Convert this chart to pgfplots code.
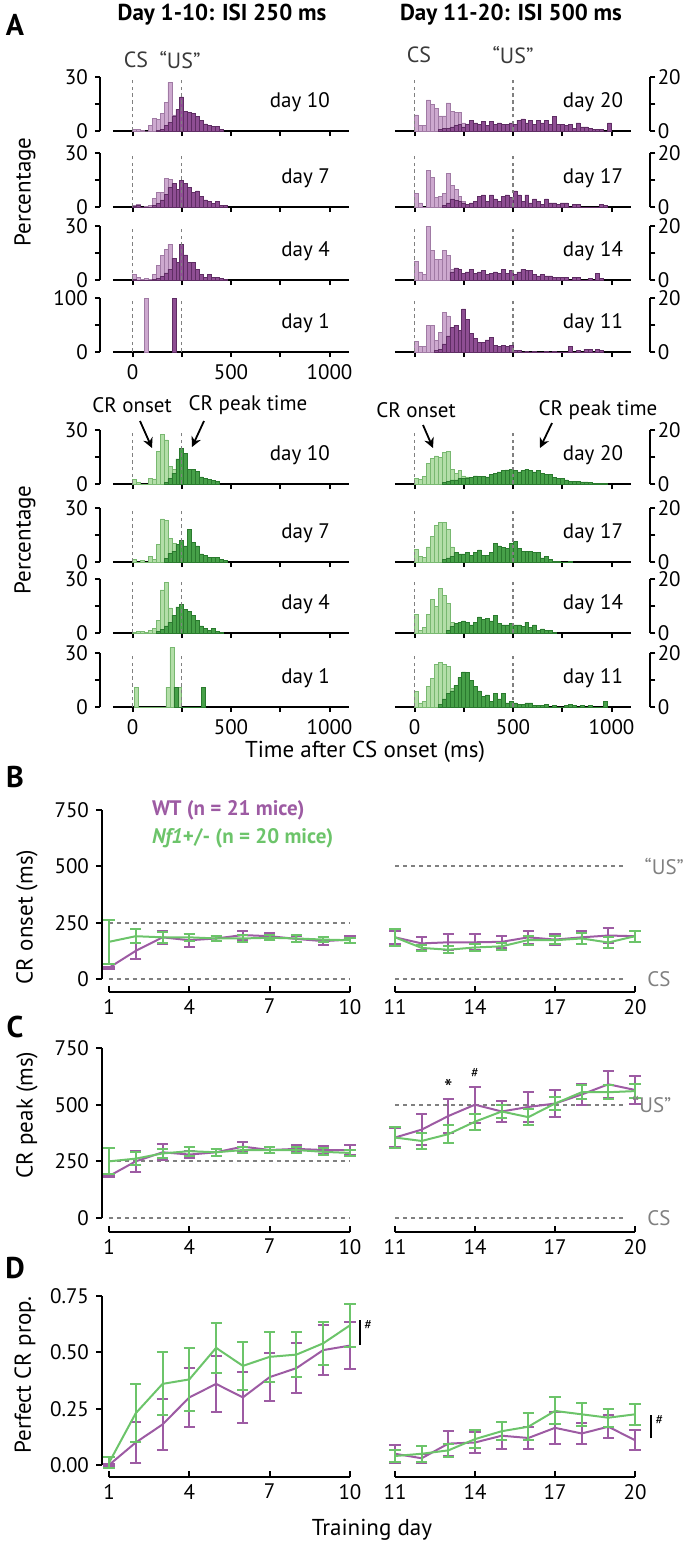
\documentclass[border=0pt]{standalone}
\usepackage{pgfplots}
\pgfplotsset{compat=1.18}
\usetikzlibrary{arrows.meta}
\usepackage{fontspec}
\setmainfont{PT Sans}
\definecolor{plight}{HTML}{CDA9CF}
\definecolor{pledge}{HTML}{A07AA4}
\definecolor{pdark}{HTML}{8E4E93}
\definecolor{pdedge}{HTML}{5F2D64}
\definecolor{glight}{HTML}{B3DEA8}
\definecolor{gledge}{HTML}{78B870}
\definecolor{gdark}{HTML}{46A048}
\definecolor{gdedge}{HTML}{2A7A2E}
\definecolor{wtline}{HTML}{9D5BA3}
\definecolor{nfline}{HTML}{6CC46A}
\definecolor{refgray}{HTML}{808080}
\definecolor{txtgray}{HTML}{3A3A3A}
\newcommand{\tks}{\fontsize{10.5}{12}\selectfont}
\pgfplotsset{
  /pgf/number format/assume math mode=true,
  hbase/.style={scale only axis, width=118.2pt, height=27pt, xmin=-100, xmax=1100, ymin=0,
    axis x line*=bottom, tick align=outside, xtick={0,250,500,750,1000}, xticklabels={},
    axis line style={line width=1pt}, tick style={line width=1pt, black}, major tick length=2.5pt,
    tick label style={font=\tks}, yticklabel style={inner ysep=0pt}, clip=false},
  hleft/.style={hbase, axis y line*=left, axis y line shift=6.5pt, ymax=30, ytick={0,15,30}, yticklabels={0,,30}},
  hright/.style={hbase, axis y line*=right, axis y line shift=9.6pt, ymax=20, ytick={0,10,20}, yticklabels={0,,20},
    yticklabel style={inner xsep=1pt}},
  bottomx/.style={xticklabels={0,,500,,1000}},
  pL/.style={ybar interval, fill=plight, draw=pledge, line width=0.3pt},
  pD/.style={ybar interval, fill=pdark, draw=pdedge, line width=0.3pt},
  gL/.style={ybar interval, fill=glight, draw=gledge, line width=0.3pt},
  gD/.style={ybar interval, fill=gdark, draw=gdedge, line width=0.3pt},
  hdash/.style={refgray, line width=0.7pt, dash pattern=on 1.8pt off 1.6pt},
  refdash/.style={refgray, line width=0.9pt, dash pattern=on 2.2pt off 1.8pt},
  lineax/.style={scale only axis, axis x line*=bottom, axis y line*=left, axis y line shift=3.5pt,
    xtick align=inside, ytick align=outside, major tick length=3pt,
    axis line style={line width=1pt}, tick style={line width=1pt, black},
    tick label style={font=\tks}, clip=false, width=120.5pt},
  lineaxR/.style={scale only axis, axis x line*=bottom, axis y line=none,
    xtick align=inside, major tick length=3pt,
    axis line style={line width=1pt}, tick style={line width=1pt, black},
    tick label style={font=\tks}, clip=false, width=120pt},
  wtst/.style={color=wtline, line width=1pt, mark=none, error bars/.cd, y dir=both, y explicit,
    error bar style={line width=1pt}, error mark options={line width=1pt, mark size=2.8pt, rotate=90}},
  nfst/.style={color=nfline, line width=1pt, mark=none, error bars/.cd, y dir=both, y explicit,
    error bar style={line width=1pt}, error mark options={line width=1pt, mark size=2.8pt, rotate=90}},
}
\begin{document}
\begin{tikzpicture}
\path[use as bounding box] (0,0) rectangle (342.5pt,-774.5pt);
\begin{scope}[x=0.5pt,y=-0.5pt]
\node[font=\fontsize{15}{17}\selectfont\bfseries] at (15,25) {A};
\node[font=\fontsize{15}{17}\selectfont\bfseries] at (15,777) {B};
\node[font=\fontsize{15}{17}\selectfont\bfseries] at (15,1027) {C};
\node[font=\fontsize{15}{17}\selectfont\bfseries] at (15,1268) {D};
\node[font=\fontsize{11.5}{13}\selectfont\bfseries] at (222,15) {Day 1-10: ISI 250 ms};
\node[font=\fontsize{11.5}{13}\selectfont\bfseries] at (511,15) {Day 11-20: ISI 500 ms};
\node[font=\fontsize{11}{13}\selectfont, text=txtgray] at (136,60) {CS};
\node[font=\fontsize{11}{13}\selectfont, text=txtgray] at (180,60) {“US”};
\node[font=\fontsize{11}{13}\selectfont, text=txtgray] at (419,55) {CS};
\node[font=\fontsize{11}{13}\selectfont, text=txtgray] at (513,55) {“US”};
\node[font=\fontsize{11.5}{13}\selectfont, rotate=90] at (25,192) {Percentage};
\node[font=\fontsize{11.5}{13}\selectfont, rotate=90] at (25,540) {Percentage};
\node[font=\tks] at (132,405) {CR onset};
\node[font=\tks] at (248,405) {CR peak time};
\node[font=\tks] at (416,410) {CR onset};
\node[font=\tks] at (598,410) {CR peak time};
\draw[-{Stealth[length=5pt,width=5pt]}, line width=0.9pt] (140,421) -- (152,448);
\draw[-{Stealth[length=5pt,width=5pt]}, line width=0.9pt] (204,421) -- (192,447);
\draw[-{Stealth[length=5pt,width=5pt]}, line width=0.9pt] (423,425) -- (433,448);
\draw[-{Stealth[length=5pt,width=5pt]}, line width=0.9pt] (552,423) -- (540,448);
\node[font=\fontsize{11.5}{13}\selectfont] at (365,752) {Time after CS onset (ms)};
\node[font=\fontsize{11.5}{13}\selectfont, rotate=90] at (27,917) {CR onset (ms)};
\node[font=\fontsize{11.5}{13}\selectfont, rotate=90] at (27,1115) {CR peak (ms)};
\node[font=\fontsize{11.5}{13}\selectfont, rotate=90] at (25,1375) {Perfect CR prop.};
\node[font=\fontsize{11.5}{13}\selectfont] at (372,1530) {Training day};
\node[anchor=west, font=\fontsize{10.5}{12}\selectfont\bfseries, text=wtline] at (145,810) {WT (n = 21 mice)};
\node[anchor=west, font=\fontsize{10.5}{12}\selectfont\bfseries, text=nfline] at (145,838) {\textit{Nf1}+/- (n = 20 mice)};
\end{scope}

% ---------------- Panel A purple, left ----------------
\begin{axis}[hleft, at={(56.4pt,-65.5pt)}, anchor=south west]
\addplot[pL] coordinates {(0,1)(20,1)(40,0.5)(60,0)(80,3)(100,7)(120,6.5)(140,10)(160,16)(180,27)(200,9)(220,3)(240,1)(260,0)};
\addplot[pD] coordinates {(120,0.5)(140,1)(160,3)(180,5)(200,8)(220,12)(240,19)(260,11)(280,10.5)(300,10)(320,8)(340,6)(360,4)(380,3)(400,2.5)(420,2.5)(440,1)(460,0)};
\addplot[hdash] coordinates {(0,0)(0,30)};
\addplot[hdash] coordinates {(250,0)(250,30)};
\node[anchor=east, font=\tks] at (rel axis cs:0.948,0.54) {day 10};
\end{axis}
\begin{axis}[hleft, at={(56.4pt,-103.5pt)}, anchor=south west]
\addplot[pL] coordinates {(0,1)(20,1.5)(40,0)(60,0.5)(80,1)(100,5)(120,8)(140,8)(160,16)(180,15.5)(200,10)(220,6)(240,3)(260,0)};
\addplot[pD] coordinates {(0,0.5)(20,1)(40,0)(100,1)(120,2)(140,4)(160,7)(180,11)(200,13)(220,10)(240,15)(260,13)(280,11)(300,8)(320,9)(340,6)(360,4)(380,3)(400,2)(420,3)(440,1)(460,1)(480,0)};
\addplot[hdash] coordinates {(0,0)(0,30)};
\addplot[hdash] coordinates {(250,0)(250,30)};
\node[anchor=east, font=\tks] at (rel axis cs:0.948,0.54) {day 7};
\end{axis}
\begin{axis}[hleft, at={(56.4pt,-140pt)}, anchor=south west]
\addplot[pL] coordinates {(0,3)(20,1.5)(40,0.5)(60,1)(80,0.5)(100,3)(120,8)(140,13.5)(160,17)(180,20)(200,11)(220,6)(240,2)(260,0)};
\addplot[pD] coordinates {(0,0.5)(20,0)(100,0.5)(120,1)(140,2)(160,4)(180,6)(200,12)(220,10)(240,20)(260,14)(280,10)(300,10)(320,6)(340,3)(360,1.5)(380,3)(400,1.5)(420,1.5)(440,1)(460,0.5)(480,0)};
\addplot[hdash] coordinates {(0,0)(0,30)};
\addplot[hdash] coordinates {(250,0)(250,30)};
\node[anchor=east, font=\tks] at (rel axis cs:0.948,0.54) {day 4};
\end{axis}
\begin{axis}[hleft, bottomx, at={(56.4pt,-176pt)}, anchor=south west, ymax=100, ytick={0,50,100}, yticklabels={0,,100}]
\addplot[pL] coordinates {(60,100)(80,0)};
\addplot[pD] coordinates {(200,100)(220,0)};
\addplot[hdash] coordinates {(0,0)(0,100)};
\addplot[hdash] coordinates {(250,0)(250,100)};
\node[anchor=east, font=\tks] at (rel axis cs:0.948,0.54) {day 1};
\end{axis}

% ---------------- Panel A purple, right ----------------
\begin{axis}[hright, at={(197.4pt,-65.5pt)}, anchor=south west]
\addplot[pL] coordinates {(0,6)(20,2.2)(40,2)(60,11.5)(80,10)(100,8.5)(120,5.6)(140,5.6)(160,10.4)(180,7.2)(200,7)(220,6.8)(240,3)(260,2.6)(280,2.2)(300,1)(320,0)};
\addplot[pD] coordinates {(120,0.5)(140,1)(160,1)(180,1.5)(200,2)(220,2.5)(240,1.5)(260,2.5)(280,4)(300,3)(320,2.5)(340,3.5)(360,2)(380,3.5)(400,2.5)(420,3)(440,2.5)(460,2.5)(480,3)(500,2.5)(520,4)(540,4.5)(560,3)(580,4)(600,2.5)(620,4)(640,3)(660,4)(680,2.5)(700,5.5)(720,2.5)(740,2.5)(760,2)(780,2.5)(800,1)(820,3)(840,1.5)(860,1.5)(880,1)(900,0.5)(920,0.5)(940,0.5)(960,0)(980,3)(1000,0)};
\addplot[hdash] coordinates {(0,0)(0,20)};
\addplot[hdash] coordinates {(500,0)(500,20)};
\node[anchor=east, font=\tks] at (rel axis cs:0.995,0.54) {day 20};
\end{axis}
\begin{axis}[hright, at={(197.4pt,-103.5pt)}, anchor=south west]
\addplot[pL] coordinates {(0,5)(20,1.5)(40,0)(60,13.5)(80,11)(100,3.5)(120,3.8)(140,5)(160,12.5)(180,8)(200,6.5)(220,4)(240,2)(260,1)(280,0)};
\addplot[pD] coordinates {(140,0.5)(160,1.5)(180,3)(200,2.5)(220,2)(240,1.5)(260,1)(280,1.5)(300,2)(320,4)(340,4.5)(360,2)(380,4.5)(400,3)(420,2)(440,4)(460,4.5)(480,3.5)(500,6)(520,4.5)(540,2)(560,4.5)(580,1.5)(600,3)(620,2)(640,1)(660,3)(680,1.5)(700,1.5)(720,1)(740,1.5)(760,1.5)(780,0)(800,1)(820,1)(840,0)(940,1)(960,0.5)(980,0)};
\addplot[hdash] coordinates {(0,0)(0,20)};
\addplot[hdash] coordinates {(500,0)(500,20)};
\node[anchor=east, font=\tks] at (rel axis cs:0.995,0.54) {day 17};
\end{axis}
\begin{axis}[hright, at={(197.4pt,-140pt)}, anchor=south west]
\addplot[pL] coordinates {(0,7)(20,3)(40,2)(60,20)(80,11)(100,7.5)(120,7.5)(140,11)(160,9)(180,4)(200,2)(220,1.5)(240,0)};
\addplot[pD] coordinates {(180,3)(200,4.5)(220,4)(240,2.5)(260,3)(280,4)(300,2.5)(320,3)(340,3.5)(360,2)(380,2.5)(400,3)(420,2.5)(440,4)(460,2.5)(480,3.5)(500,2)(520,3)(540,4)(560,3.5)(580,3.5)(600,2)(620,1.5)(640,2)(660,1.5)(680,1.5)(700,1)(720,1)(740,1)(760,1)(780,0)(800,1)(820,1)(840,0)(880,0.5)(900,0)(920,2.5)(940,0.5)(960,0)};
\addplot[hdash] coordinates {(0,0)(0,20)};
\addplot[hdash] coordinates {(500,0)(500,20)};
\node[anchor=east, font=\tks] at (rel axis cs:0.995,0.54) {day 14};
\end{axis}
\begin{axis}[hright, bottomx, at={(197.4pt,-176pt)}, anchor=south west, xticklabels={}]
\addplot[pL] coordinates {(0,3.8)(20,2)(40,2)(60,10)(80,10)(100,4.4)(120,7.4)(140,14.6)(160,13.4)(180,6)(200,2.5)(220,1)(240,0)};
\addplot[pD] coordinates {(100,0.5)(120,1)(140,3)(160,6)(180,9)(200,10)(220,8)(240,16)(260,12)(280,7)(300,5)(320,3.5)(340,3.5)(360,4.5)(380,5.5)(400,2.5)(420,2)(440,2.5)(460,2)(480,2.5)(500,0.5)(520,0.5)(540,0)(560,0.3)(580,0)(600,0.3)(620,0)(660,0.3)(680,0)(700,0.3)(720,0)(780,2)(800,0)(820,0.5)(840,0)(860,1)(880,1)(900,0)(920,1)(940,0.5)(960,0)};
\addplot[hdash] coordinates {(0,0)(0,20)};
\addplot[hdash] coordinates {(500,0)(500,20)};
\node[anchor=east, font=\tks] at (rel axis cs:0.995,0.54) {day 11};
\end{axis}

% ---------------- Panel A green, left ----------------
\begin{axis}[hleft, at={(56.4pt,-242pt)}, anchor=south west]
\addplot[gL] coordinates {(0,2.4)(20,1)(40,0)(80,3.3)(100,2.8)(120,18)(140,27.6)(160,24.5)(180,9.8)(200,8)(220,5)(240,2)(260,0)};
\addplot[gD] coordinates {(160,1)(180,3)(200,6)(220,14)(240,20)(260,17)(280,8)(300,8)(320,7)(340,4)(360,3)(380,2.5)(400,2)(420,1.5)(440,0)};
\addplot[hdash] coordinates {(0,0)(0,30)};
\addplot[hdash] coordinates {(250,0)(250,30)};
\node[anchor=east, font=\tks] at (rel axis cs:0.948,0.54) {day 10};
\end{axis}
\begin{axis}[hleft, at={(56.4pt,-281pt)}, anchor=south west]
\addplot[gL] coordinates {(0,1.5)(20,0)(40,1)(60,0)(80,3)(100,1.5)(120,10)(140,24)(160,23)(180,13)(200,10.5)(220,9)(240,4)(260,0)};
\addplot[gD] coordinates {(160,2)(180,5)(200,6)(220,10)(240,12)(260,9)(280,18)(300,11)(320,9)(340,4.5)(360,3.5)(380,2.5)(400,2.5)(420,2.5)(440,1.5)(460,1)(480,0)};
\addplot[hdash] coordinates {(0,0)(0,30)};
\addplot[hdash] coordinates {(250,0)(250,30)};
\node[anchor=east, font=\tks] at (rel axis cs:0.948,0.54) {day 7};
\end{axis}
\begin{axis}[hleft, at={(56.4pt,-316.5pt)}, anchor=south west]
\addplot[gL] coordinates {(0,0.5)(20,1)(40,1)(60,0.5)(80,1.5)(100,2.5)(120,7)(140,24)(160,28)(180,14)(200,8)(220,6)(240,3)(260,0)};
\addplot[gD] coordinates {(120,1)(140,2)(160,4)(180,6)(200,10)(220,14.5)(240,16)(260,13)(280,12)(300,10)(320,7)(340,4)(360,2.5)(380,1.5)(400,2.5)(420,1)(440,0.5)(460,0)};
\addplot[hdash] coordinates {(0,0)(0,30)};
\addplot[hdash] coordinates {(250,0)(250,30)};
\node[anchor=east, font=\tks] at (rel axis cs:0.948,0.54) {day 4};
\end{axis}
\begin{axis}[hleft, bottomx, at={(56.4pt,-353.5pt)}, anchor=south west]
\addplot[gL] coordinates {(10,11)(30,0)(170,11)(190,33)(210,0)(230,11)(250,0)};
\addplot[gD] coordinates {(210,11)(230,0)(350,11)(370,0)};
\addplot[hdash] coordinates {(0,0)(0,30)};
\addplot[hdash] coordinates {(250,0)(250,30)};
\node[anchor=east, font=\tks] at (rel axis cs:0.948,0.54) {day 1};
\end{axis}

% ---------------- Panel A green, right ----------------
\begin{axis}[hright, at={(197.4pt,-242pt)}, anchor=south west]
\addplot[gL] coordinates {(0,2)(20,1.6)(40,2.8)(60,7.7)(80,9.6)(100,10.4)(120,10)(140,11.7)(160,12)(180,5.3)(200,3.8)(220,5)(240,3)(260,2.6)(280,1.5)(300,1)(320,0)};
\addplot[gD] coordinates {(140,0.5)(160,1)(180,1.5)(200,1.5)(220,2)(240,2)(260,2)(280,2.5)(300,3)(320,2.8)(340,2.8)(360,2.6)(380,3.5)(400,4)(420,4.5)(440,5)(460,5.2)(480,5.5)(500,5)(520,4.5)(540,5)(560,5.5)(580,5)(600,4.5)(620,5)(640,4)(660,3.5)(680,3.5)(700,2.5)(720,2)(740,2)(760,1.5)(780,1)(800,1)(820,1)(840,0.8)(860,0.8)(880,0.5)(900,0.3)(920,0.3)(940,0.3)(960,0.3)(980,0)};
\addplot[hdash] coordinates {(0,0)(0,20)};
\addplot[hdash] coordinates {(500,0)(500,20)};
\node[anchor=east, font=\tks] at (rel axis cs:0.995,0.54) {day 20};
\end{axis}
\begin{axis}[hright, at={(197.4pt,-281pt)}, anchor=south west]
\addplot[gL] coordinates {(0,4.6)(20,2)(40,1.6)(60,5.6)(80,9.4)(100,13.7)(120,14.6)(140,14.6)(160,12)(180,5.6)(200,2)(220,1)(240,0)};
\addplot[gD] coordinates {(140,1)(160,1.5)(180,2)(200,3.5)(220,3)(240,3)(260,3.5)(280,2.5)(300,3.5)(320,4.5)(340,2.5)(360,2.5)(380,3.5)(400,7)(420,6)(440,5.5)(460,5)(480,7)(500,7.5)(520,5)(540,4)(560,4)(580,4)(600,3.5)(620,3.5)(640,1.5)(660,2)(680,1)(700,0.3)(720,0.3)(740,0)(780,0.3)(800,0)};
\addplot[hdash] coordinates {(0,0)(0,20)};
\addplot[hdash] coordinates {(500,0)(500,20)};
\node[anchor=east, font=\tks] at (rel axis cs:0.995,0.54) {day 17};
\end{axis}
\begin{axis}[hright, at={(197.4pt,-316.5pt)}, anchor=south west]
\addplot[gL] coordinates {(0,7)(20,1)(40,2)(60,7)(80,12.5)(100,10)(120,16.5)(140,14)(160,11)(180,4)(200,3)(220,2)(240,0)};
\addplot[gD] coordinates {(160,1)(180,2.5)(200,3.5)(220,4)(240,4.5)(260,4)(280,3)(300,4)(320,6)(340,5)(360,5.5)(380,4.5)(400,6.5)(420,3.5)(440,3)(460,3)(480,3.5)(500,3)(520,3)(540,2.5)(560,4)(580,2)(600,3)(620,1)(640,1.5)(660,1)(680,1)(700,0.3)(720,0)};
\addplot[hdash] coordinates {(0,0)(0,20)};
\addplot[hdash] coordinates {(500,0)(500,20)};
\node[anchor=east, font=\tks] at (rel axis cs:0.995,0.54) {day 14};
\end{axis}
\begin{axis}[hright, bottomx, at={(197.4pt,-353.5pt)}, anchor=south west]
\addplot[gL] coordinates {(0,5.7)(20,1.5)(40,2)(60,7.6)(80,10.7)(100,15.7)(120,16.6)(140,15.7)(160,15)(180,7)(200,3)(220,0)};
\addplot[gD] coordinates {(120,1)(140,3)(160,5)(180,6)(200,8)(220,11)(240,13)(260,12.8)(280,10)(300,7.6)(320,6)(340,4)(360,4.5)(380,2)(400,5)(420,3)(440,5)(460,1.5)(480,2)(500,1.5)(520,1)(540,1)(560,1.5)(580,1.5)(600,0.5)(620,0.5)(640,0.5)(660,1)(680,0)(700,0.5)(720,0)(760,0.5)(780,1)(800,0.5)(820,0)(840,0.5)(860,0)(880,0.5)(900,0)(960,2)(980,0)};
\addplot[hdash] coordinates {(0,0)(0,20)};
\addplot[hdash] coordinates {(500,0)(500,20)};
\node[anchor=east, font=\tks] at (rel axis cs:0.995,0.54) {day 11};
\end{axis}

% ---------------- Panel B ----------------
\begin{axis}[lineax, at={(54.5pt,-489.5pt)}, anchor=south west, height=84.5pt, axis x line shift=6.5pt,
  xmin=1, xmax=10, ymin=0, ymax=750, xtick={1,4,7,10}, ytick={0,250,500,750}]
\addplot[refdash] coordinates {(1,250)(10,250)};
\addplot[refdash] coordinates {(1,0)(10,0)};
\addplot[wtst] coordinates {(1,50)+-(0,5) (2,125)+-(0,37) (3,185)+-(0,28) (4,172)+-(0,28) (5,180)+-(0,12) (6,195)+-(0,20) (7,190)+-(0,15) (8,178)+-(0,15) (9,168)+-(0,18) (10,175)+-(0,15)};
\addplot[nfst] coordinates {(1,165)+-(0,97) (2,190)+-(0,30) (3,185)+-(0,25) (4,185)+-(0,15) (5,180)+-(0,10) (6,180)+-(0,15) (7,183)+-(0,12) (8,180)+-(0,15) (9,175)+-(0,12) (10,172)+-(0,10)};
\end{axis}
\begin{axis}[lineaxR, at={(197.5pt,-489.5pt)}, anchor=south west, height=84.5pt, axis x line shift=6.5pt,
  xmin=11, xmax=20, ymin=0, ymax=750, xtick={11,14,17,20}]
\addplot[refdash] coordinates {(11,500)(19.7,500)};
\addplot[refdash] coordinates {(11,0)(19.7,0)};
\addplot[wtst] coordinates {(11,185)+-(0,30) (12,158)+-(0,28) (13,163)+-(0,35) (14,163)+-(0,35) (15,165)+-(0,28) (16,185)+-(0,28) (17,175)+-(0,25) (18,185)+-(0,30) (19,193)+-(0,32) (20,190)+-(0,25)};
\addplot[nfst] coordinates {(11,185)+-(0,38) (12,138)+-(0,15) (13,130)+-(0,15) (14,140)+-(0,15) (15,145)+-(0,15) (16,173)+-(0,20) (17,172)+-(0,18) (18,180)+-(0,25) (19,162)+-(0,25) (20,190)+-(0,25)};
\node[anchor=west, font=\tks, text=refgray, inner sep=0pt] at (axis cs:20.35,500) {“US”};
\node[anchor=west, font=\tks, text=refgray, inner sep=0pt] at (axis cs:20.45,0) {CS};
\end{axis}

% ---------------- Panel C ----------------
\begin{axis}[lineax, at={(54.5pt,-609pt)}, anchor=south west, height=85pt, axis x line shift=7pt,
  xmin=1, xmax=10, ymin=0, ymax=750, xtick={1,4,7,10}, ytick={0,250,500,750}]
\addplot[refdash] coordinates {(1,250)(10,250)};
\addplot[refdash] coordinates {(1,0)(10,0)};
\addplot[wtst] coordinates {(1,185)+-(0,5) (2,250)+-(0,45) (3,290)+-(0,35) (4,280)+-(0,15) (5,290)+-(0,15) (6,315)+-(0,20) (7,300)+-(0,15) (8,305)+-(0,15) (9,300)+-(0,18) (10,300)+-(0,20)};
\addplot[nfst] coordinates {(1,250)+-(0,57) (2,262)+-(0,30) (3,285)+-(0,20) (4,295)+-(0,20) (5,290)+-(0,15) (6,300)+-(0,15) (7,300)+-(0,15) (8,300)+-(0,15) (9,292)+-(0,15) (10,287)+-(0,15)};
\end{axis}
\begin{axis}[lineaxR, at={(197.5pt,-609pt)}, anchor=south west, height=85pt, axis x line shift=7pt,
  xmin=11, xmax=20, ymin=0, ymax=750, xtick={11,14,17,20}]
\addplot[refdash] coordinates {(11,500)(19.7,500)};
\addplot[refdash] coordinates {(11,0)(19.7,0)};
\addplot[wtst] coordinates {(11,355)+-(0,40) (12,390)+-(0,70) (13,450)+-(0,75) (14,500)+-(0,80) (15,470)+-(0,45) (16,490)+-(0,65) (17,505)+-(0,60) (18,545)+-(0,45) (19,590)+-(0,60) (20,565)+-(0,60)};
\addplot[nfst] coordinates {(11,355)+-(0,45) (12,340)+-(0,35) (13,370)+-(0,40) (14,425)+-(0,35) (15,470)+-(0,30) (16,445)+-(0,35) (17,505)+-(0,30) (18,555)+-(0,30) (19,555)+-(0,30) (20,560)+-(0,30)};
\node[anchor=west, font=\tks, text=refgray, inner sep=0pt] at (axis cs:19.88,500) {“US”};
\node[anchor=west, font=\tks, text=refgray, inner sep=0pt] at (axis cs:20.45,0) {CS};
\node[font=\fontsize{12}{12}\selectfont] at (axis cs:13,575) {*};
\node[font=\fontsize{7}{8}\selectfont] at (axis cs:14,640) {\#};
\end{axis}

% ---------------- Panel D ----------------
\begin{axis}[lineax, at={(54.5pt,-732.5pt)}, anchor=south west, height=84.5pt, axis x line shift=6pt,
  xmin=1, xmax=10, ymin=0, ymax=0.75, xtick={1,4,7,10}, ytick={0,0.25,0.5,0.75},
  yticklabel style={/pgf/number format/.cd, fixed, fixed zerofill, precision=2}]
\addplot[wtst] coordinates {(1,0)+-(0,0.005) (2,0.10)+-(0,0.09) (3,0.18)+-(0,0.115) (4,0.30)+-(0,0.13) (5,0.36)+-(0,0.125) (6,0.30)+-(0,0.115) (7,0.39)+-(0,0.105) (8,0.43)+-(0,0.11) (9,0.51)+-(0,0.11) (10,0.53)+-(0,0.105)};
\addplot[nfst] coordinates {(1,0.01)+-(0,0.025) (2,0.23)+-(0,0.13) (3,0.36)+-(0,0.14) (4,0.38)+-(0,0.14) (5,0.52)+-(0,0.11) (6,0.44)+-(0,0.105) (7,0.48)+-(0,0.11) (8,0.49)+-(0,0.10) (9,0.54)+-(0,0.095) (10,0.62)+-(0,0.095)};
\draw[line width=1pt] (axis cs:10.37,0.532) -- (axis cs:10.37,0.643);
\node[font=\fontsize{7}{8}\selectfont, anchor=west, inner sep=1pt] at (axis cs:10.45,0.62) {\#};
\end{axis}
\begin{axis}[lineaxR, at={(197.5pt,-732.5pt)}, anchor=south west, height=84.5pt, axis x line shift=6pt,
  xmin=11, xmax=20, ymin=0, ymax=0.75, xtick={11,14,17,20}]
\addplot[wtst] coordinates {(11,0.05)+-(0,0.04) (12,0.03)+-(0,0.02) (13,0.095)+-(0,0.055) (14,0.10)+-(0,0.045) (15,0.13)+-(0,0.06) (16,0.12)+-(0,0.05) (17,0.165)+-(0,0.07) (18,0.14)+-(0,0.045) (19,0.17)+-(0,0.05) (20,0.11)+-(0,0.045)};
\addplot[nfst] coordinates {(11,0.04)+-(0,0.025) (12,0.05)+-(0,0.035) (13,0.065)+-(0,0.03) (14,0.115)+-(0,0.04) (15,0.15)+-(0,0.04) (16,0.17)+-(0,0.06) (17,0.24)+-(0,0.06) (18,0.225)+-(0,0.05) (19,0.21)+-(0,0.04) (20,0.225)+-(0,0.048)};
\draw[line width=1pt] (axis cs:20.6,0.118) -- (axis cs:20.6,0.22);
\node[font=\fontsize{7}{8}\selectfont, anchor=west, inner sep=1pt] at (axis cs:20.68,0.2) {\#};
\end{axis}
\end{tikzpicture}
\end{document}
